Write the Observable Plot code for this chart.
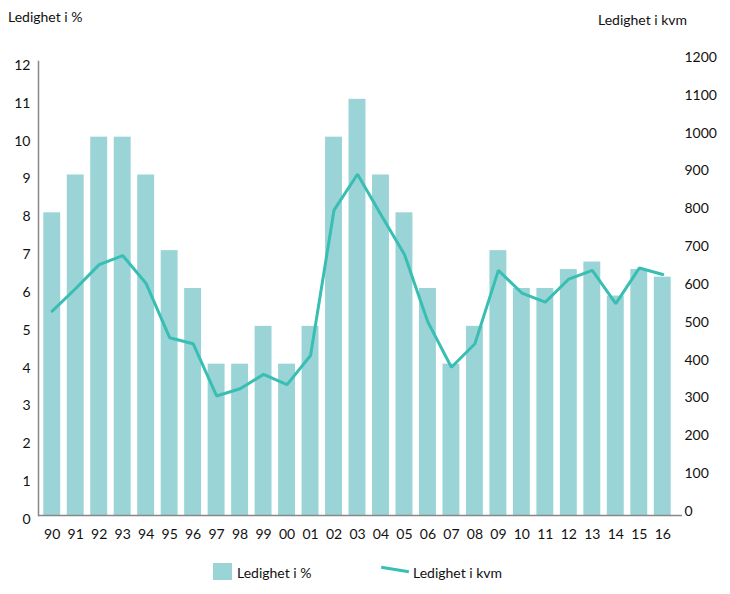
<!DOCTYPE html>
<html>
<head>
<meta charset="utf-8">
<script src="https://cdn.jsdelivr.net/npm/d3@7"></script>
<script src="https://cdn.jsdelivr.net/npm/@observablehq/plot@0.6"></script>
<style>
  body { margin: 0; background: #fff; font-family: Lato, "Open Sans", sans-serif; color: #111; }
  #wrap { position: relative; width: 730px; height: 594px; }
  .t { position: absolute; font-size: 14px; line-height: 18px; white-space: nowrap; }
  #head { position: relative; height: 30px; }
  #legend { position: relative; height: 34px; }
  svg { display: block; }
</style>
</head>
<body>
<div id="wrap">
  <div id="head">
    <div class="t" style="left:8px;top:8px;">Ledighet i %</div>
    <div class="t" style="left:598px;top:11px;">Ledighet i kvm</div>
  </div>
  <div id="chart"></div>
  <div id="legend">
    <div style="position:absolute;left:213px;top:3px;width:19px;height:17px;background:#9AD4D6;"></div>
    <div class="t" style="left:237px;top:4px;">Ledighet i %</div>
    <div style="position:absolute;left:381px;top:8px;width:28px;height:3px;background:#38BEB2;transform:rotate(9deg);"></div>
    <div class="t" style="left:413px;top:4px;">Ledighet i kvm</div>
  </div>
</div>
<script>
const years = ["90","91","92","93","94","95","96","97","98","99","00","01","02","03","04","05","06","07","08","09","10","11","12","13","14","15","16"];
const ledighetPct = [8,9,10,10,9,7,6,4,4,5,4,5,10,11,9,8,6,4,5,7,6,6,6.5,6.7,5.8,6.5,6.3];
const ledighetKvm = [540,600,663,687,613,470,454,316,335,373,346,423,807,902,795,690,511,392,454,648,588,564,625,648,560,654,637];
const leftTicks = [0,1,2,3,4,5,6,7,8,9,10,11,12];
const rightTicks = [0,100,200,300,400,500,600,700,800,900,1000,1100,1200];

const data = years.map((y, i) => ({year: y, pct: ledighetPct[i], kvm: ledighetKvm[i]}));

const chart = Plot.plot({
  width: 730,
  height: 530,
  marginLeft: 38,
  marginRight: 48,
  marginTop: 31,
  marginBottom: 45,
  style: {fontFamily: "Lato, 'Open Sans', sans-serif", fontSize: "14px", color: "#111", background: "#fff"},
  x: {type: "band", domain: years, paddingInner: 0.28, paddingOuter: 0.14, insetLeft: 2, insetRight: 8, round: false},
  y: {domain: [0, 12]},
  marks: [
    Plot.barY(data, {x: "year", y: "pct", fill: "#9AD4D6"}),
    Plot.line(data, {x: "year", y: d => d.kvm / 100, stroke: "#38BEB2", strokeWidth: 3, strokeLinejoin: "miter"}),
    Plot.ruleY([0], {stroke: "#888", strokeWidth: 1.5}),
    Plot.frame({anchor: "left", stroke: "#888", strokeWidth: 1.5}),
    Plot.axisY(leftTicks, {anchor: "left", tickSize: 0, tickPadding: 8, dy: 4, label: null}),
    Plot.axisY(rightTicks.map(v => v / 100), {anchor: "right", tickSize: 0, tickPadding: 2, dy: -4, label: null, tickFormat: (d, i) => String(rightTicks[i])}),
    Plot.axisX({tickSize: 0, tickPadding: 14, label: null})
  ]
});
document.getElementById("chart").appendChild(chart);
</script>
</body>
</html>
